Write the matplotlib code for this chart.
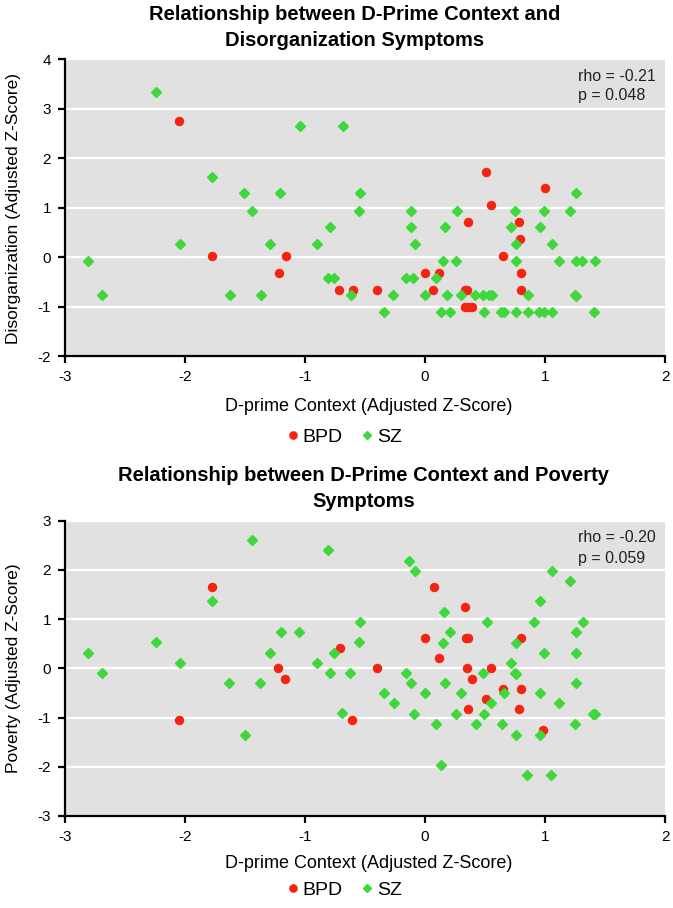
import matplotlib
matplotlib.use("Agg")
import matplotlib.pyplot as plt
from matplotlib.lines import Line2D

plt.rcParams['font.family'] = ['Liberation Sans', 'DejaVu Sans']

# ---------------- Data: Disorganization ----------------
dis_bpd_x = [-2.05, -1.775, -1.16, -1.22, 0.51, 1.0, 0.55, 0.36, 0.78, 0.79, 0.65,
             0.0, 0.12, 0.80, -0.72, -0.6, -0.4, 0.07, 0.33, 0.35, 0.80, 0.33, 0.36, 0.39]
dis_bpd_y = [2.75, 0.02, 0.02, -0.31, 1.73, 1.41, 1.06, 0.71, 0.71, 0.37, 0.03,
             -0.31, -0.31, -0.31, -0.66, -0.66, -0.66, -0.66, -0.66, -0.66, -0.66, -1.0, -1.0, -1.0]

dis_sz_x = [-2.24, -1.04, -0.68, -1.775, -1.51, -1.21, -0.54, 1.26, -1.44, -0.55, -0.12, 0.27,
            0.75, 0.99, 1.21, -0.79, -0.12, 0.17, 0.72, 0.96, -2.04, -1.29, -0.9, -0.08, 0.76,
            1.06, -2.81, 0.15, 0.26, 0.76, 1.12, 1.26, 1.31, 1.42, -0.81, -0.76, -0.16, -0.1,
            0.09, -2.69, -1.625, -1.37, -0.62, -0.27, 0.0, 0.18, 0.3, 0.42, 0.48, 0.53, 0.56,
            0.86, 1.25, 1.26, -0.34, 0.13, 0.21, 0.49, 0.63, 0.66, 0.76, 0.86, 0.95, 0.99, 1.06, 1.41]
dis_sz_y = [3.34, 2.65, 2.65, 1.63, 1.29, 1.29, 1.29, 1.29, 0.94, 0.94, 0.94, 0.94,
            0.94, 0.94, 0.94, 0.61, 0.61, 0.61, 0.61, 0.61, 0.26, 0.26, 0.26, 0.26, 0.26,
            0.26, -0.08, -0.07, -0.07, -0.07, -0.07, -0.07, -0.07, -0.07, -0.41, -0.41, -0.41, -0.41,
            -0.41, -0.76, -0.76, -0.76, -0.76, -0.76, -0.76, -0.76, -0.76, -0.76, -0.76, -0.76, -0.76,
            -0.76, -0.76, -0.78, -1.1, -1.1, -1.1, -1.1, -1.1, -1.1, -1.1, -1.1, -1.1, -1.1, -1.1, -1.1]

# ---------------- Data: Poverty ----------------
pov_bpd_x = [-1.775, -2.05, -1.225, -1.17, -0.71, -0.61, -0.4, 0.075, 0.33, 0.0, 0.34, 0.36,
             0.8, 0.12, 0.35, 0.55, 0.39, 0.65, 0.8, 0.51, 0.36, 0.78, 0.98]
pov_bpd_y = [1.66, -1.05, 0.0, -0.22, 0.41, -1.05, 0.0, 1.66, 1.24, 0.62, 0.62, 0.62,
             0.62, 0.2, 0.0, 0.0, -0.21, -0.42, -0.42, -0.63, -0.83, -0.83, -1.25]

pov_sz_x = [-1.44, -0.81, -0.13, -0.08, 1.06, 1.21, -1.775, 0.96, 0.16, -0.54, 0.52, 0.91,
            1.32, -1.2, -1.05, 0.21, 1.26, -2.24, -0.55, 0.15, 0.76, -2.81, -1.29, -0.76,
            0.99, 1.26, -2.04, -0.9, 0.72, -2.69, -0.79, -0.625, -0.16, 0.48, 0.75, 0.76,
            -1.63, -1.375, -0.12, 0.17, 1.26, -0.34, 0.0, 0.3, 0.66, 0.96, -0.26, 0.55,
            1.12, -0.69, -0.09, 0.26, 0.49, 1.4, 1.42, 0.09, 0.425, 0.64, 1.25, -1.5,
            0.76, 0.96, 0.13, 0.85, 1.05]
pov_sz_y = [2.61, 2.4, 2.19, 1.98, 1.98, 1.78, 1.36, 1.36, 1.15, 0.94, 0.94, 0.94,
            0.94, 0.73, 0.73, 0.73, 0.74, 0.53, 0.53, 0.52, 0.52, 0.32, 0.32, 0.32,
            0.32, 0.32, 0.11, 0.11, 0.11, -0.1, -0.1, -0.1, -0.1, -0.1, -0.1, -0.12,
            -0.3, -0.3, -0.3, -0.3, -0.3, -0.51, -0.51, -0.51, -0.51, -0.51, -0.71, -0.71,
            -0.71, -0.91, -0.93, -0.93, -0.93, -0.93, -0.93, -1.13, -1.13, -1.13, -1.13, -1.36,
            -1.35, -1.35, -1.97, -2.17, -2.17]

x_ticks = [-3, -2, -1, 0, 1, 2]
dis_yticks = [-2, -1, 0, 1, 2, 3, 4]
pov_yticks = [-3, -2, -1, 0, 1, 2, 3]

RED = '#f5230f'
GREEN = '#3fd83a'
BG = '#e1e1e1'

W, H = 673, 908
fig = plt.figure(figsize=(W / 100, H / 100), dpi=100)


def px_axes(left, right, top, bottom):
    return fig.add_axes([left / W, 1 - bottom / H, (right - left) / W, (bottom - top) / H])


def style(ax, yticks, ylabel, ylabel_y, stats, stat_y):
    ax.set_facecolor(BG)
    ax.set_xlim(-3, 2)
    ax.set_ylim(yticks[0], yticks[-1])
    ax.set_xticks(x_ticks)
    ax.set_yticks(yticks)
    ax.set_xticklabels([str(t) for t in x_ticks])
    ax.set_yticklabels([str(t) for t in yticks])
    ax.yaxis.grid(True, color='white', lw=1.6)
    ax.set_axisbelow(True)
    for s in ['top', 'right']:
        ax.spines[s].set_visible(False)
    for s in ['left', 'bottom']:
        ax.spines[s].set_linewidth(1.6)
        ax.spines[s].set_color('black')
    ax.tick_params(axis='both', direction='out', length=5, width=1.6, labelsize=11,
                   colors='black', pad=5)
    fig.text(14 / W, 1 - ylabel_y / H, ylabel, rotation=90, ha='center', va='center',
             fontsize=12.5)
    for line, yv in zip(stats, stat_y):
        ax.text(1.275, yv, line, fontsize=11.5, va='center', ha='left', color='#222222')


def scatter(ax, bx, by, sx, sy):
    ax.plot(bx, by, 'o', color=RED, ms=5.8, mec=RED, zorder=3, label='BPD')
    ax.plot(sx, sy, 'D', color=GREEN, ms=4.7, mec=GREEN, zorder=3, label='SZ')


def legend(ycenter):
    handles = [Line2D([], [], marker='o', ls='', color=RED, ms=5.2),
               Line2D([], [], marker='D', ls='', color=GREEN, ms=4.2)]
    fig.legend(handles, ['BPD', 'SZ'], loc='center', ncol=2, frameon=False,
               bbox_to_anchor=(343 / W, 1 - ycenter / H), fontsize=14,
               handletextpad=0.05, columnspacing=0.8, handlelength=0.9)


# Top chart
ax1 = px_axes(65, 665, 59.3, 356.3)
scatter(ax1, dis_bpd_x, dis_bpd_y, dis_sz_x, dis_sz_y)
style(ax1, dis_yticks, 'Disorganization (Adjusted Z-Score)', 208,
      ['rho = -0.21', 'p = 0.048'], [3.65, 3.27])
fig.text(355 / W, 1 - 15 / H, 'Relationship between D-Prime Context and',
         ha='center', va='center', fontsize=14.5, fontweight='bold')
fig.text(355 / W, 1 - 41 / H, 'Disorganization Symptoms',
         ha='center', va='center', fontsize=14.5, fontweight='bold')
fig.text(369 / W, 1 - 406 / H, 'D-prime Context (Adjusted Z-Score)',
         ha='center', va='center', fontsize=13)
legend(437)

# Bottom chart
ax2 = px_axes(65, 665, 520.7, 815.9)
scatter(ax2, pov_bpd_x, pov_bpd_y, pov_sz_x, pov_sz_y)
style(ax2, pov_yticks, 'Poverty (Adjusted Z-Score)', 668,
      ['rho = -0.20', 'p = 0.059'], [2.65, 2.24])
fig.text(364 / W, 1 - 476 / H, 'Relationship between D-Prime Context and Poverty',
         ha='center', va='center', fontsize=14.5, fontweight='bold')
fig.text(364 / W, 1 - 502 / H, 'Symptoms',
         ha='center', va='center', fontsize=14.5, fontweight='bold')
fig.text(369 / W, 1 - 864 / H, 'D-prime Context (Adjusted Z-Score)',
         ha='center', va='center', fontsize=13)
legend(890)

fig.savefig('out.png', dpi=100)
